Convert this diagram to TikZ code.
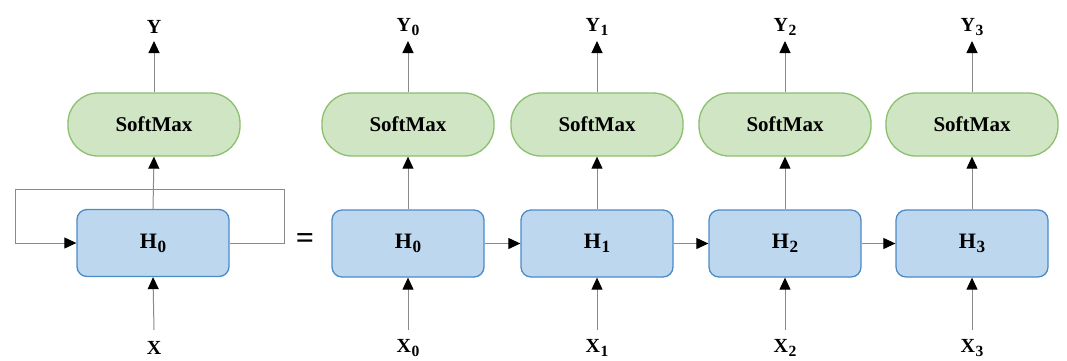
\documentclass[tikz,border=0pt]{standalone}
\usepackage{fontspec}
\setmainfont{Liberation Serif}
\usetikzlibrary{arrows.meta}
\definecolor{smfill}{HTML}{CFE5C3}
\definecolor{smdraw}{HTML}{8CBF6E}
\definecolor{hfill}{HTML}{BDD7EE}
\definecolor{hdraw}{HTML}{4A8BC8}
\definecolor{wire}{HTML}{8A8A8A}
\tikzset{
  softbox/.style={draw=smdraw, fill=smfill, line width=1.3pt, rounded corners=30pt,
    minimum width=172pt, minimum height=63pt, font=\fontsize{21}{24}\selectfont\bfseries},
  hbox/.style={draw=hdraw, fill=hfill, line width=1.3pt, rounded corners=10pt,
    minimum width=152pt, minimum height=67pt, font=\fontsize{22}{25}\selectfont\bfseries},
  io/.style={font=\fontsize{20}{23}\selectfont\bfseries, inner sep=0pt},
  flow/.style={draw=wire, line width=1pt,
    -{Triangle[length=12pt, width=11pt, color=black]}},
  plain/.style={draw=wire, line width=1pt},
}
\newcommand{\lbl}[2]{#1\kern0.5pt\raisebox{-0.4ex}{\scalebox{0.78}{#2}}}
\begin{document}
\begin{tikzpicture}[x=1pt, y=-1pt]
  \useasboundingbox (0,0) rectangle (1067,360);

  % folded network
  \node[hbox] (H) at (153,243) {\lbl{H}{0}};
  \node[softbox] (S) at (154,124.5) {SoftMax};
  \node[io] (Y) at (154,27) {Y};
  \node[io] (X) at (154,348) {X};
  \coordinate (Xs) at (154,330);
  \draw[flow] (Xs) -- (H.south);
  \draw[flow] (H.north) -- (S.south);
  \coordinate (Yt) at (154,41);
  \draw[flow] (S.north) -- (Yt);
  % recurrent loop
  \coordinate (loopR) at (284,189);
  \coordinate (loopL) at (15,189);
  \draw[plain] (H.east) -| (loopR) -- (loopL);
  \draw[flow] (loopL) |- (H.west);

  % equals sign
  \node[font=\fontsize{32}{32}\selectfont\bfseries] (eq) at (305,241) {=};

  % unrolled network
  \foreach \i/\cx in {0/408, 1/597, 2/785, 3/972} {
    \node[hbox] (H\i) at (\cx,243.5) {\lbl{H}{\i}};
    \node[softbox] (S\i) at (\cx,124.5) {SoftMax};
    \node[io] (Y\i) at (\cx,27) {\lbl{Y}{\i}};
    \node[io] (X\i) at (\cx,348) {\lbl{X}{\i}};
    \coordinate (Xs\i) at (\cx,330);
    \draw[flow] (Xs\i) -- (H\i.south);
    \draw[flow] (H\i.north) -- (S\i.south);
    \coordinate (Yt\i) at (\cx,41);
    \draw[flow] (S\i.north) -- (Yt\i);
  }
  \draw[flow] (H0.east) -- (H1.west);
  \draw[flow] (H1.east) -- (H2.west);
  \draw[flow] (H2.east) -- (H3.west);
\end{tikzpicture}
\end{document}
